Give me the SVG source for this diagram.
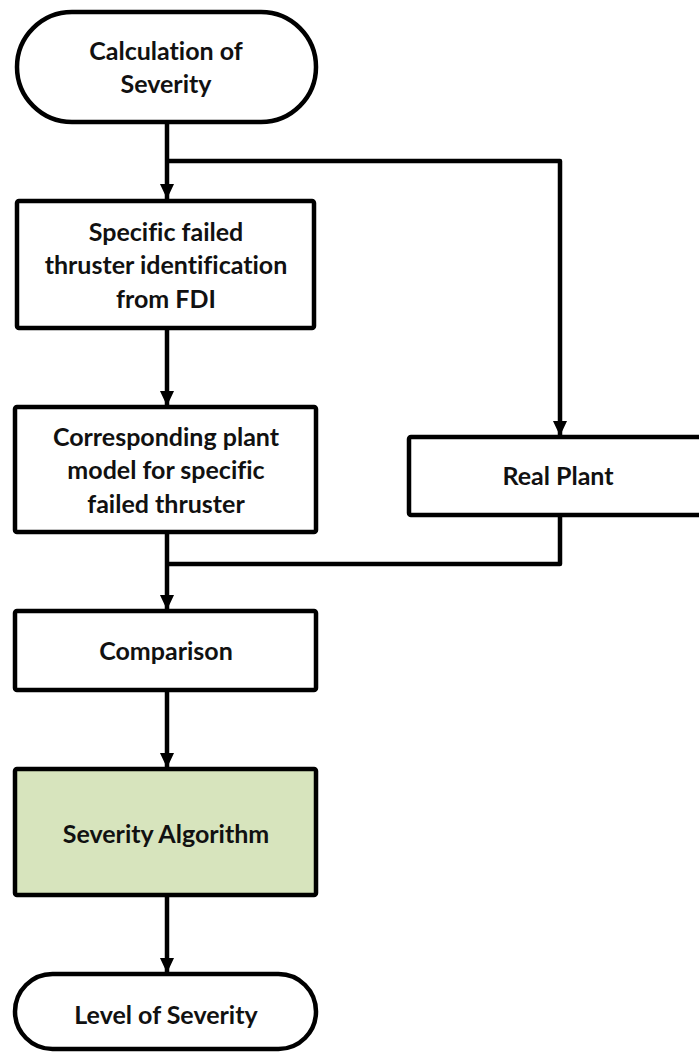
<svg xmlns="http://www.w3.org/2000/svg" width="699" height="1053" viewBox="0 0 699 1053">
  <style>
    .shape { fill: #FFFFFF; stroke: #000000; stroke-width: 4.5; stroke-linejoin: round; }
    .green { fill: #D7E4BD; }
    .label { font-family: Lato, "Open Sans", "Liberation Sans", sans-serif; font-weight: bold; font-size: 25px; fill: #111111; text-anchor: middle; font-variant-ligatures: none; }
    .wire { fill: none; stroke: #000000; stroke-width: 4.5; stroke-linejoin: round; }
  </style>
  <defs>
    <marker id="arrow" markerUnits="userSpaceOnUse" markerWidth="16" markerHeight="16" refX="15" refY="8" orient="auto">
      <path d="M0,1 L15,8 L0,15 Z" fill="#000000"/>
    </marker>
  </defs>

  <rect width="699" height="1053" fill="#FFFFFF"/>

  <!-- connectors -->
  <g id="connectors">
    <path class="wire" d="M167,122 L167,199" marker-end="url(#arrow)"/>
    <path class="wire" d="M167,161 L560,161 L560,436" marker-end="url(#arrow)"/>
    <path class="wire" d="M167,328 L167,406" marker-end="url(#arrow)"/>
    <path class="wire" d="M167,532 L167,610" marker-end="url(#arrow)"/>
    <path class="wire" d="M560,515 L560,564 L167,564"/>
    <path class="wire" d="M167,690 L167,768" marker-end="url(#arrow)"/>
    <path class="wire" d="M167,895 L167,973" marker-end="url(#arrow)"/>
  </g>

  <!-- start terminator -->
  <g id="start">
    <rect class="shape" x="17" y="12" width="299" height="110" rx="55" ry="55"/>
    <text class="label" x="166" y="60">Calculation of</text>
    <text class="label" x="166" y="93">Severity</text>
  </g>

  <g id="identify">
    <rect class="shape" x="17" y="201" width="297" height="127" rx="2"/>
    <text class="label" x="166" y="241">Specific failed</text>
    <text class="label" x="166" y="274">thruster identification</text>
    <text class="label" x="166" y="308">from FDI</text>
  </g>

  <g id="model">
    <rect class="shape" x="15" y="407" width="301" height="125" rx="2"/>
    <text class="label" x="166" y="446">Corresponding plant</text>
    <text class="label" x="166" y="479">model for specific</text>
    <text class="label" x="166" y="513">failed thruster</text>
  </g>

  <g id="real-plant">
    <rect class="shape" x="409" y="437" width="300" height="78" rx="2"/>
    <text class="label" x="558" y="485">Real Plant</text>
  </g>

  <g id="comparison">
    <rect class="shape" x="15" y="611" width="301" height="79" rx="2"/>
    <text class="label" x="166" y="660">Comparison</text>
  </g>

  <g id="algorithm">
    <rect class="shape green" x="15" y="769" width="301" height="126" rx="2"/>
    <text class="label" x="166" y="843">Severity Algorithm</text>
  </g>

  <!-- end terminator -->
  <g id="end">
    <rect class="shape" x="15" y="974" width="301" height="75" rx="37.5" ry="37.5"/>
    <text class="label" x="166" y="1024">Level of Severity</text>
  </g>
</svg>
